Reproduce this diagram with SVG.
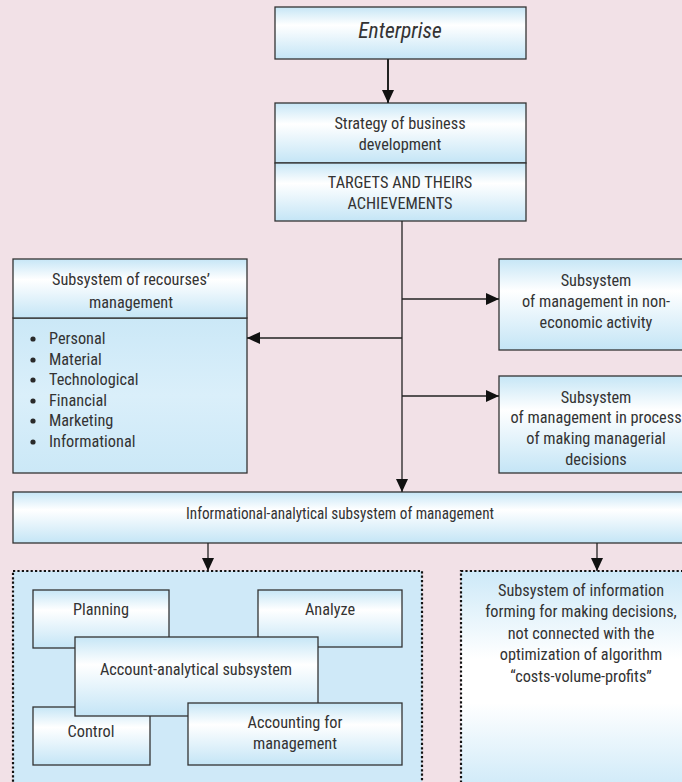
<svg xmlns="http://www.w3.org/2000/svg" width="682" height="782" viewBox="0 0 682 782">
<defs>
<linearGradient id="g" x1="0" y1="0" x2="0" y2="1">
<stop offset="0" stop-color="#c6e6f6"/>
<stop offset="0.35" stop-color="#ffffff"/>
<stop offset="1" stop-color="#c4e5f6"/>
</linearGradient>
<linearGradient id="g2" x1="0" y1="0" x2="0" y2="1">
<stop offset="0" stop-color="#cbe8f7"/>
<stop offset="0.5" stop-color="#daeffa"/>
<stop offset="1" stop-color="#cbe8f7"/>
</linearGradient>
<linearGradient id="g3" x1="0" y1="0" x2="0" y2="1">
<stop offset="0" stop-color="#cde9f8"/>
<stop offset="0.4" stop-color="#ffffff"/>
<stop offset="0.6" stop-color="#ffffff"/>
<stop offset="1" stop-color="#cde9f8"/>
</linearGradient>
<marker id="ah" markerUnits="userSpaceOnUse" markerWidth="13" markerHeight="12" refX="13" refY="6" orient="auto">
<path d="M0,0 L13,6 L0,12 z" fill="#111"/>
</marker>
</defs>
<style>
.box{fill:url(#g);stroke:#333;stroke-width:1.3}
.dot{stroke:#111;stroke-width:2.2;stroke-dasharray:2.2 2.2}
.t{font-family:"Liberation Sans Narrow","Roboto Condensed","Liberation Sans",sans-serif;font-size:16.3px;fill:#333;text-anchor:middle}
.l{text-anchor:start}
.c{stroke:#222;stroke-width:1.3;fill:none}
</style>
<rect width="682" height="782" fill="#f2e1e7"/>

<g id="enterprise">
<rect class="box" x="275" y="7" width="251" height="52"/>
<text class="t" x="400" y="38" style="font-style:italic;font-size:21.5px">Enterprise</text>
</g>

<g id="strategy">
<rect class="box" x="275" y="103" width="251" height="60"/>
<rect class="box" x="275" y="163" width="251" height="58"/>
<text class="t" x="400" y="129">Strategy of business</text>
<text class="t" x="400" y="150">development</text>
<text class="t" x="400" y="188">TARGETS AND THEIRS</text>
<text class="t" x="400" y="209">ACHIEVEMENTS</text>
</g>

<g id="resources">
<rect class="box" x="13" y="318" width="234" height="155" style="fill:url(#g2)"/>
<rect class="box" x="13" y="259" width="234" height="59"/>
<text class="t" x="131" y="285">Subsystem of recourses’</text>
<text class="t" x="131" y="308">management</text>
<g fill="#2a2a2a">
<circle cx="33" cy="339" r="2.6"/>
<circle cx="33" cy="360" r="2.6"/>
<circle cx="33" cy="380" r="2.6"/>
<circle cx="33" cy="401" r="2.6"/>
<circle cx="33" cy="421" r="2.6"/>
<circle cx="33" cy="442" r="2.6"/>
</g>
<text class="t l" x="49" y="344">Personal</text>
<text class="t l" x="49" y="365">Material</text>
<text class="t l" x="49" y="385">Technological</text>
<text class="t l" x="49" y="406">Financial</text>
<text class="t l" x="49" y="426">Marketing</text>
<text class="t l" x="49" y="447">Informational</text>
</g>

<g id="noneconomic">
<rect class="box" x="499" y="259" width="195" height="91"/>
<text class="t" x="596" y="286">Subsystem</text>
<text class="t" x="596" y="307">of management in non-</text>
<text class="t" x="596" y="328">economic activity</text>
</g>

<g id="decisions">
<rect class="box" x="499" y="376" width="195" height="97"/>
<text class="t" x="596" y="403">Subsystem</text>
<text class="t" x="596" y="423">of management in process</text>
<text class="t" x="596" y="444">of making managerial</text>
<text class="t" x="596" y="465">decisions</text>
</g>

<g id="informational">
<rect class="box" x="13" y="492" width="681" height="51"/>
<text class="t" x="340" y="519" textLength="308" lengthAdjust="spacingAndGlyphs">Informational-analytical subsystem of management</text>
</g>

<g id="account-group">
<rect class="dot" x="13" y="571" width="409" height="220" fill="#cfe9f8"/>
<g id="planning">
<rect class="box" x="33" y="590" width="136" height="58"/>
<text class="t" x="101" y="615">Planning</text>
</g>
<g id="analyze">
<rect class="box" x="258" y="590" width="144" height="57"/>
<text class="t" x="330" y="615">Analyze</text>
</g>
<g id="control">
<rect class="box" x="33" y="707" width="117" height="58"/>
<text class="t" x="91" y="737">Control</text>
</g>
<g id="account-analytical">
<rect class="box" x="75" y="637" width="243" height="79"/>
<text class="t" x="196" y="675">Account-analytical subsystem</text>
</g>
<g id="accounting">
<rect class="box" x="188" y="703" width="214" height="62"/>
<text class="t" x="295" y="728">Accounting for</text>
<text class="t" x="295" y="749">management</text>
</g>
</g>

<g id="information-forming">
<rect class="dot" x="461" y="571" width="240" height="220" fill="url(#g3)"/>
<text class="t" x="581" y="596">Subsystem of information</text>
<text class="t" x="581" y="617">forming for making decisions,</text>
<text class="t" x="581" y="639">not connected with the</text>
<text class="t" x="581" y="660">optimization of algorithm</text>
<text class="t" x="581" y="682">“costs-volume-profits”</text>
</g>

<g id="connectors">
<line class="c" x1="388" y1="59" x2="388" y2="103" marker-end="url(#ah)" style="stroke-width:2"/>
<line class="c" x1="402" y1="221" x2="402" y2="492" marker-end="url(#ah)"/>
<line class="c" x1="402" y1="299" x2="499" y2="299" marker-end="url(#ah)"/>
<line class="c" x1="402" y1="396" x2="499" y2="396" marker-end="url(#ah)"/>
<line class="c" x1="402" y1="338" x2="247" y2="338" marker-end="url(#ah)"/>
<line class="c" x1="208" y1="543" x2="208" y2="571" marker-end="url(#ah)"/>
<line class="c" x1="597" y1="543" x2="597" y2="571" marker-end="url(#ah)"/>
</g>
</svg>
